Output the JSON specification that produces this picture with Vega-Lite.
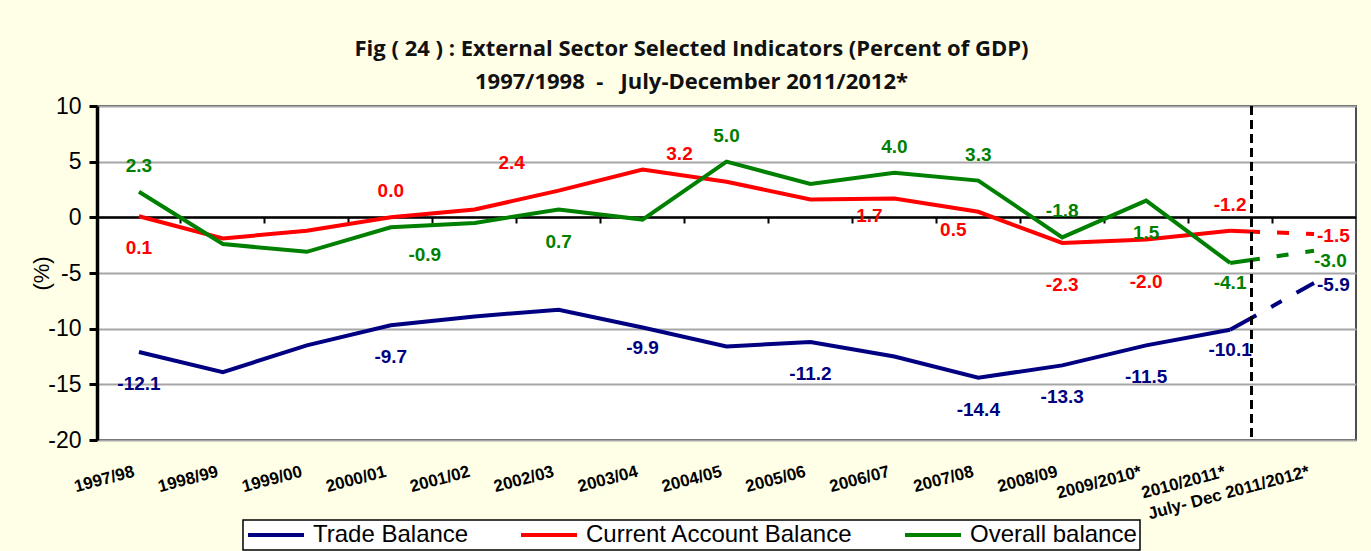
{
  "$schema": "https://vega.github.io/schema/vega-lite/v6.json",
  "width": 1259,
  "height": 334,
  "autosize": {"type": "none"},
  "padding": {"left": 97, "top": 106, "right": 15, "bottom": 111},
  "background": "#FFFFE8",
  "config": {
    "view": {"fill": "white", "stroke": "#4D4D4D", "strokeWidth": 2},
    "text": {"font": "Liberation Sans", "fontWeight": "bold", "fontSize": 19},
    "legend": {"strokeWidth": 1.5},
    "locale": {"number": {"decimal": ".", "thousands": ",", "grouping": [3], "currency": ["$", ""], "minus": "-"}}
  },
  "title": {
    "text": "Fig ( 24 ) : External Sector Selected Indicators (Percent of GDP)",
    "subtitle": "1997/1998 \u00a0-\u00a0\u00a0 July-December 2011/2012*",
    "anchor": "middle",
    "frame": "group",
    "dx": -35,
    "offset": 1,
    "font": "Open Sans",
    "fontSize": 22,
    "fontWeight": "bold",
    "color": "#111111",
    "subtitleFont": "Open Sans",
    "subtitleFontSize": 22,
    "subtitleFontWeight": "bold",
    "subtitleColor": "#111111",
    "subtitlePadding": 11
  },
  "data": {
    "values": [
      {"cat": "1997/98", "series": "Trade Balance", "value": -12.1},
      {"cat": "1998/99", "series": "Trade Balance", "value": -13.9},
      {"cat": "1999/00", "series": "Trade Balance", "value": -11.5},
      {"cat": "2000/01", "series": "Trade Balance", "value": -9.7},
      {"cat": "2001/02", "series": "Trade Balance", "value": -8.9},
      {"cat": "2002/03", "series": "Trade Balance", "value": -8.3},
      {"cat": "2003/04", "series": "Trade Balance", "value": -9.9},
      {"cat": "2004/05", "series": "Trade Balance", "value": -11.6},
      {"cat": "2005/06", "series": "Trade Balance", "value": -11.2},
      {"cat": "2006/07", "series": "Trade Balance", "value": -12.5},
      {"cat": "2007/08", "series": "Trade Balance", "value": -14.4},
      {"cat": "2008/09", "series": "Trade Balance", "value": -13.3},
      {"cat": "2009/2010*", "series": "Trade Balance", "value": -11.5},
      {"cat": "2010/2011*", "series": "Trade Balance", "value": -10.1},
      {"cat": "July- Dec 2011/2012*", "series": "Trade Balance", "value": -5.9},
      {"cat": "1997/98", "series": "Current Account Balance", "value": 0.1},
      {"cat": "1998/99", "series": "Current Account Balance", "value": -1.9},
      {"cat": "1999/00", "series": "Current Account Balance", "value": -1.2},
      {"cat": "2000/01", "series": "Current Account Balance", "value": 0.0},
      {"cat": "2001/02", "series": "Current Account Balance", "value": 0.7},
      {"cat": "2002/03", "series": "Current Account Balance", "value": 2.4},
      {"cat": "2003/04", "series": "Current Account Balance", "value": 4.3},
      {"cat": "2004/05", "series": "Current Account Balance", "value": 3.2},
      {"cat": "2005/06", "series": "Current Account Balance", "value": 1.6},
      {"cat": "2006/07", "series": "Current Account Balance", "value": 1.7},
      {"cat": "2007/08", "series": "Current Account Balance", "value": 0.5},
      {"cat": "2008/09", "series": "Current Account Balance", "value": -2.3},
      {"cat": "2009/2010*", "series": "Current Account Balance", "value": -2.0},
      {"cat": "2010/2011*", "series": "Current Account Balance", "value": -1.2},
      {"cat": "July- Dec 2011/2012*", "series": "Current Account Balance", "value": -1.5},
      {"cat": "1997/98", "series": "Overall balance", "value": 2.3},
      {"cat": "1998/99", "series": "Overall balance", "value": -2.4},
      {"cat": "1999/00", "series": "Overall balance", "value": -3.1},
      {"cat": "2000/01", "series": "Overall balance", "value": -0.9},
      {"cat": "2001/02", "series": "Overall balance", "value": -0.5},
      {"cat": "2002/03", "series": "Overall balance", "value": 0.7},
      {"cat": "2003/04", "series": "Overall balance", "value": -0.2},
      {"cat": "2004/05", "series": "Overall balance", "value": 5.0},
      {"cat": "2005/06", "series": "Overall balance", "value": 3.0},
      {"cat": "2006/07", "series": "Overall balance", "value": 4.0},
      {"cat": "2007/08", "series": "Overall balance", "value": 3.3},
      {"cat": "2008/09", "series": "Overall balance", "value": -1.8},
      {"cat": "2009/2010*", "series": "Overall balance", "value": 1.5},
      {"cat": "2010/2011*", "series": "Overall balance", "value": -4.1},
      {"cat": "July- Dec 2011/2012*", "series": "Overall balance", "value": -3.0}
    ]
  },
  "resolve": {"axis": {"x": "independent"}},
  "layer": [
    {
      "transform": [{"filter": "datum.cat !== 'July- Dec 2011/2012*'"}],
      "mark": {"type": "line", "strokeWidth": 4},
      "encoding": {
        "x": {
          "field": "cat", "type": "ordinal",
          "scale": {"type": "band", "paddingInner": 0, "paddingOuter": 0,
            "domain": ["1997/98","1998/99","1999/00","2000/01","2001/02","2002/03","2003/04","2004/05","2005/06","2006/07","2007/08","2008/09","2009/2010*","2010/2011*","July- Dec 2011/2012*"]},
          "axis": {
            "orient": "bottom", "title": null, "ticks": false, "domain": false, "grid": false,
            "labelAngle": -15, "labelAlign": "right", "labelBaseline": "middle",
            "labelPadding": 31, "labelOffset": -5,
            "labelFont": "Liberation Sans", "labelFontWeight": "bold", "labelFontSize": 17,
            "labelColor": "black", "labelOverlap": false, "labelLimit": 400
          }
        },
        "y": {
          "field": "value", "type": "quantitative",
          "scale": {"domain": [-20, 10], "nice": false, "zero": false},
          "axis": {
            "values": [-20, -15, -10, -5, 0, 5, 10],
            "title": "(%)", "titleFont": "Liberation Sans", "titleFontSize": 22,
            "titleFontWeight": "normal", "titleColor": "black",
            "titleX": -56, "titleY": 167, "titleAngle": -90, "titleAlign": "center", "titleBaseline": "middle",
            "labelFont": "Liberation Sans", "labelFontSize": 23, "labelColor": "black", "labelPadding": 8,
            "domainColor": "black", "domainWidth": 3.5,
            "tickColor": "black", "tickWidth": 3, "tickSize": 8,
            "grid": true, "gridColor": "#A6A6A6", "gridWidth": 2
          }
        },
        "color": {
          "field": "series", "type": "nominal",
          "scale": {"domain": ["Trade Balance", "Current Account Balance", "Overall balance"],
                    "range": ["#000080", "#FF0000", "#008000"]},
          "legend": {
            "title": null, "orient": "none", "direction": "horizontal",
            "legendX": 146, "legendY": 414,
            "symbolType": "M-1,0H4.6", "symbolSize": 400, "symbolStrokeWidth": 4,
            "labelFont": "Liberation Sans", "labelFontSize": 24, "labelColor": "black", "labelLimit": 400,
            "labelOffset": 43, "columnPadding": 44, "padding": 3,
            "fillColor": "white", "strokeColor": "black"
          }
        }
      }
    },
    {
      "transform": [{"filter": "datum.cat === '2010/2011*' || datum.cat === 'July- Dec 2011/2012*'"}],
      "mark": {"type": "line", "strokeWidth": 4, "strokeDash": [30, 17, 12, 17]},
      "encoding": {
        "x": {"field": "cat", "type": "ordinal", "axis": null},
        "y": {"field": "value", "type": "quantitative"},
        "color": {"field": "series", "type": "nominal", "legend": null}
      }
    },
    {
      "mark": {"type": "rule", "color": "black", "strokeWidth": 2, "strokeDash": [9, 5]},
      "encoding": {
        "x": {
          "datum": "2010/2011*", "type": "ordinal", "bandPosition": 0.75,
          "axis": {
            "orient": "bottom", "offset": -223, "title": null, "labels": false, "grid": false,
            "bandPosition": 0, "domain": true, "domainColor": "black", "domainWidth": 2.5,
            "ticks": true, "tickColor": "black", "tickWidth": 2, "tickSize": 6
          }
        }
      }
    },
    {
      "transform": [{"filter": "indexof(['Current Account Balance|2000/01','Current Account Balance|2010/2011*','Overall balance|1997/98','Overall balance|2004/05','Overall balance|2006/07','Overall balance|2007/08','Overall balance|2008/09'], datum.series + '|' + datum.cat) >= 0"}],
      "mark": {"type": "text", "dy": -26, "baseline": "middle"},
      "encoding": {
        "x": {"field": "cat", "type": "ordinal", "axis": null},
        "y": {"field": "value", "type": "quantitative"},
        "text": {"field": "value", "type": "quantitative", "format": ".1f"},
        "color": {"field": "series", "type": "nominal", "legend": null}
      }
    },
    {
      "transform": [{"filter": "indexof(['Current Account Balance|2002/03','Current Account Balance|2004/05'], datum.series + '|' + datum.cat) >= 0"}],
      "mark": {"type": "text", "dx": -47, "dy": -28, "baseline": "middle"},
      "encoding": {
        "x": {"field": "cat", "type": "ordinal", "axis": null},
        "y": {"field": "value", "type": "quantitative"},
        "text": {"field": "value", "type": "quantitative", "format": ".1f"},
        "color": {"field": "series", "type": "nominal", "legend": null}
      }
    },
    {
      "transform": [{"filter": "indexof(['Trade Balance|1997/98','Trade Balance|2000/01','Trade Balance|2005/06','Trade Balance|2007/08','Trade Balance|2008/09','Trade Balance|2009/2010*','Current Account Balance|1997/98','Overall balance|2002/03','Overall balance|2009/2010*'], datum.series + '|' + datum.cat) >= 0"}],
      "mark": {"type": "text", "dy": 32, "baseline": "middle"},
      "encoding": {
        "x": {"field": "cat", "type": "ordinal", "axis": null},
        "y": {"field": "value", "type": "quantitative"},
        "text": {"field": "value", "type": "quantitative", "format": ".1f"},
        "color": {"field": "series", "type": "nominal", "legend": null}
      }
    },
    {
      "transform": [{"filter": "indexof(['Overall balance|2000/01'], datum.series + '|' + datum.cat) >= 0"}],
      "mark": {"type": "text", "dx": 34, "dy": 28, "baseline": "middle"},
      "encoding": {
        "x": {"field": "cat", "type": "ordinal", "axis": null},
        "y": {"field": "value", "type": "quantitative"},
        "text": {"field": "value", "type": "quantitative", "format": ".1f"},
        "color": {"field": "series", "type": "nominal", "legend": null}
      }
    },
    {
      "transform": [{"filter": "indexof(['Trade Balance|2003/04','Trade Balance|2010/2011*','Overall balance|2010/2011*'], datum.series + '|' + datum.cat) >= 0"}],
      "mark": {"type": "text", "dy": 20, "baseline": "middle"},
      "encoding": {
        "x": {"field": "cat", "type": "ordinal", "axis": null},
        "y": {"field": "value", "type": "quantitative"},
        "text": {"field": "value", "type": "quantitative", "format": ".1f"},
        "color": {"field": "series", "type": "nominal", "legend": null}
      }
    },
    {
      "transform": [{"filter": "indexof(['Current Account Balance|2006/07','Current Account Balance|2007/08'], datum.series + '|' + datum.cat) >= 0"}],
      "mark": {"type": "text", "dx": -25, "dy": 18, "baseline": "middle"},
      "encoding": {
        "x": {"field": "cat", "type": "ordinal", "axis": null},
        "y": {"field": "value", "type": "quantitative"},
        "text": {"field": "value", "type": "quantitative", "format": ".1f"},
        "color": {"field": "series", "type": "nominal", "legend": null}
      }
    },
    {
      "transform": [{"filter": "indexof(['Current Account Balance|2008/09','Current Account Balance|2009/2010*'], datum.series + '|' + datum.cat) >= 0"}],
      "mark": {"type": "text", "dy": 42, "baseline": "middle"},
      "encoding": {
        "x": {"field": "cat", "type": "ordinal", "axis": null},
        "y": {"field": "value", "type": "quantitative"},
        "text": {"field": "value", "type": "quantitative", "format": ".1f"},
        "color": {"field": "series", "type": "nominal", "legend": null}
      }
    },
    {
      "transform": [{"filter": "datum.cat === 'July- Dec 2011/2012*' && datum.series !== 'Overall balance'"}],
      "mark": {"type": "text", "dx": 3, "dy": 2, "align": "left", "baseline": "middle"},
      "encoding": {
        "x": {"field": "cat", "type": "ordinal", "axis": null},
        "y": {"field": "value", "type": "quantitative"},
        "text": {"field": "value", "type": "quantitative", "format": ".1f"},
        "color": {"field": "series", "type": "nominal", "legend": null}
      }
    },
    {
      "transform": [{"filter": "datum.cat === 'July- Dec 2011/2012*' && datum.series === 'Overall balance'"}],
      "mark": {"type": "text", "dx": 0, "dy": 10, "align": "left", "baseline": "middle"},
      "encoding": {
        "x": {"field": "cat", "type": "ordinal", "axis": null},
        "y": {"field": "value", "type": "quantitative"},
        "text": {"field": "value", "type": "quantitative", "format": ".1f"},
        "color": {"field": "series", "type": "nominal", "legend": null}
      }
    }
  ]
}
